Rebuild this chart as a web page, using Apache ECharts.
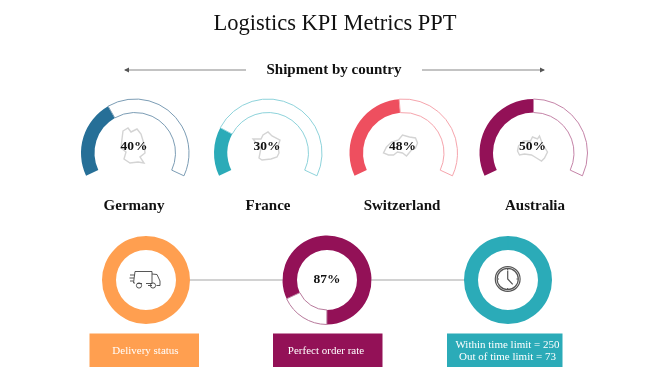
<!DOCTYPE html>
<html>
<head>
<meta charset="utf-8">
<style>
  html, body { margin: 0; padding: 0; background: #fff; }
  #chart { width: 670px; height: 376px; }
</style>
<script src="https://cdn.jsdelivr.net/npm/echarts@6/dist/echarts.min.js"></script>
</head>
<body>
<div id="chart"></div>
<script>
var countries = ['Germany', 'France', 'Switzerland', 'Australia']
var countryLabels = [40, 30, 48, 50]
// share of the arc actually filled in the picture
var countryFilled = [37, 23, 48, 50]
var orderRateLabel = 87
var orderRateFilled = 82
var deliveryFilled = 100
var timeFilled = 100
var boxTexts = ['Delivery status', 'Perfect order rate', 'Within time limit = 250\nOut of time limit = 73']

var serif = '"Liberation Serif", serif'
var gaugeX = [135, 268, 403.5, 533.5]
var labelX = [134, 268, 402, 535]
var gaugeColors = ['#266f97', '#2babb8', '#ee4f5f', '#931157']
var gaugeEdges = ['#7c9db5', '#8ed3db', '#f6a5ad', '#c584a8']

// rough country outlines, offsets from the middle of each gauge
var outlines = [
  [[-12,-19],[-7,-22],[-4,-18],[2,-21],[6,-16],[9,-6],[10,3],[5,7],[9,13],[3,12],[-5,13],[-11,9],[-9,2],[-14,-2],[-13,-11]],
  [[-15,-11],[-7,-11],[-5,-15],[0,-18],[4,-14],[12,-10],[10,-4],[11,3],[9,7],[3,9],[-6,10],[-9,8],[-7,-2],[-11,-6]],
  [[-17,-3],[-12,-8],[-5,-10],[-1,-15],[6,-13],[12,-12],[14,-7],[12,-2],[8,0],[3,6],[-1,3],[-6,2],[-10,5],[-15,5],[-20,3]],
  [[-15,-4],[-10,-9],[-3,-9],[-1,-13],[4,-11],[6,-14],[9,-6],[14,2],[11,8],[8,11],[3,8],[-2,5],[-9,4],[-14,5],[-16,1]]
]

function ring(center, radius, color, edge, filled, startAngle, endAngle) {
  return {
    type: 'pie',
    silent: true,
    animation: false,
    center: center,
    radius: radius,
    startAngle: startAngle,
    endAngle: endAngle,
    label: { show: false },
    labelLine: { show: false },
    data: [
      { value: filled, itemStyle: { color: color } },
      { value: 100 - filled, itemStyle: { color: '#fff', borderColor: edge, borderWidth: 1 } }
    ]
  }
}

function text(x, y, str, size, weight, color, lineHeight) {
  return {
    type: 'text',
    x: x,
    y: y,
    z: 20,
    silent: true,
    style: {
      text: str,
      fill: color || '#111',
      font: (weight || 'normal') + ' ' + size + 'px ' + serif,
      align: 'center',
      verticalAlign: 'middle',
      lineHeight: lineHeight
    }
  }
}

function line(x1, y1, x2, y2, color, width) {
  return {
    type: 'line',
    z: 0,
    silent: true,
    shape: { x1: x1, y1: y1, x2: x2, y2: y2 },
    style: { stroke: color || '#a6a6a6', lineWidth: width || 1.2 }
  }
}

function arrowHead(x, y, dir) {
  return {
    type: 'polygon',
    silent: true,
    shape: { points: [[x, y], [x - dir * 5, y - 2.5], [x - dir * 5, y + 2.5]] },
    style: { fill: '#555' }
  }
}

function box(x, width, color) {
  return {
    type: 'rect',
    silent: true,
    shape: { x: x, y: 333.5, width: width, height: 33.5 },
    style: { fill: color }
  }
}

var series = []
var graphics = [
  line(125, 70, 246, 70, '#888'), arrowHead(124, 70, -1),
  line(422, 70, 544, 70, '#888'), arrowHead(545, 70, 1),
  line(188, 280, 284, 280), line(369, 280, 466, 280),
  box(89.5, 109.5, '#ff9f50'), box(273, 109.5, '#931157'), box(447, 115.5, '#2babb8')
]

countries.forEach(function (name, i) {
  series.push(ring([gaugeX[i], 153], [40.5, 54], gaugeColors[i], gaugeEdges[i], countryFilled[i], 205, -25))
  graphics.push({
    type: 'polygon',
    x: gaugeX[i],
    y: 150,
    z: 10,
    silent: true,
    shape: { points: outlines[i] },
    style: { fill: 'none', stroke: '#d4d4d4', lineWidth: 1.4 }
  })
  graphics.push(text(gaugeX[i] - 1, 147, countryLabels[i] + '%', 13.5, 'bold'))
  graphics.push(text(labelX[i], 206, name, 15, 'bold'))
})

series.push(ring([146, 280], [30, 44], '#ff9f50', '#ff9f50', deliveryFilled, 90, -270))
series.push(ring([327, 280], [30, 44.5], '#931157', '#b87a9c', orderRateFilled, 205, -155))
series.push(ring([508, 280], [30, 44], '#2babb8', '#2babb8', timeFilled, 90, -270))

graphics.push(text(335, 24, 'Logistics KPI Metrics PPT', 22.5))
graphics.push(text(334, 70, 'Shipment by country', 15, 'bold'))
graphics.push(text(327, 280, orderRateLabel + '%', 13.5, 'bold'))
graphics.push(text(145.5, 351, boxTexts[0], 11, 'normal', '#fff'))
graphics.push(text(326, 351, boxTexts[1], 11, 'normal', '#fff'))
graphics.push(text(507.5, 351, boxTexts[2], 11, 'normal', '#fff', 12))

// truck icon
var iconStroke = { fill: 'none', stroke: '#444', lineWidth: 0.9 }
graphics.push({
  type: 'group',
  z: 10,
  silent: true,
  children: [
    { type: 'polyline', shape: { points: [[135, 283], [133.5, 283], [135, 271.5], [152, 271.5], [152, 283.5], [146, 283.5]] }, style: iconStroke },
    { type: 'line', shape: { x1: 142, y1: 283.5, x2: 137, y2: 283.5 }, style: iconStroke },
    { type: 'polyline', shape: { points: [[152, 274], [157, 274.5], [160, 281], [160, 285.5], [156.5, 285.5]] }, style: iconStroke },
    { type: 'polyline', shape: { points: [[152, 285.5], [148, 285.5]] }, style: iconStroke },
    { type: 'circle', shape: { cx: 139, cy: 285.5, r: 2.6 }, style: iconStroke },
    { type: 'circle', shape: { cx: 153, cy: 285.5, r: 2.6 }, style: iconStroke },
    { type: 'line', shape: { x1: 130, y1: 275, x2: 134.5, y2: 275 }, style: iconStroke },
    { type: 'line', shape: { x1: 129.5, y1: 278, x2: 134, y2: 278 }, style: iconStroke },
    { type: 'line', shape: { x1: 130, y1: 281, x2: 133.5, y2: 281 }, style: iconStroke }
  ]
})

// clock icon
var clockStroke = { fill: 'none', stroke: '#555', lineWidth: 1.2 }
graphics.push({
  type: 'group',
  z: 10,
  silent: true,
  children: [
    { type: 'circle', shape: { cx: 507.7, cy: 279, r: 12.4 }, style: clockStroke },
    { type: 'circle', shape: { cx: 507.7, cy: 279, r: 10.6 }, style: clockStroke },
    { type: 'polyline', shape: { points: [[507.7, 270.5], [507.7, 279], [512.7, 284.3]] }, style: clockStroke },
    { type: 'line', shape: { x1: 507.7, y1: 268.5, x2: 507.7, y2: 270 }, style: clockStroke },
    { type: 'line', shape: { x1: 507.7, y1: 288, x2: 507.7, y2: 289.5 }, style: clockStroke },
    { type: 'line', shape: { x1: 497.5, y1: 279, x2: 499, y2: 279 }, style: clockStroke },
    { type: 'line', shape: { x1: 516.5, y1: 279, x2: 518, y2: 279 }, style: clockStroke }
  ]
})

var myChart = echarts.init(document.getElementById('chart'), null, { renderer: 'canvas' })
myChart.setOption({
  animation: false,
  backgroundColor: '#fff',
  series: series,
  graphic: { elements: graphics }
})
</script>
</body>
</html>
